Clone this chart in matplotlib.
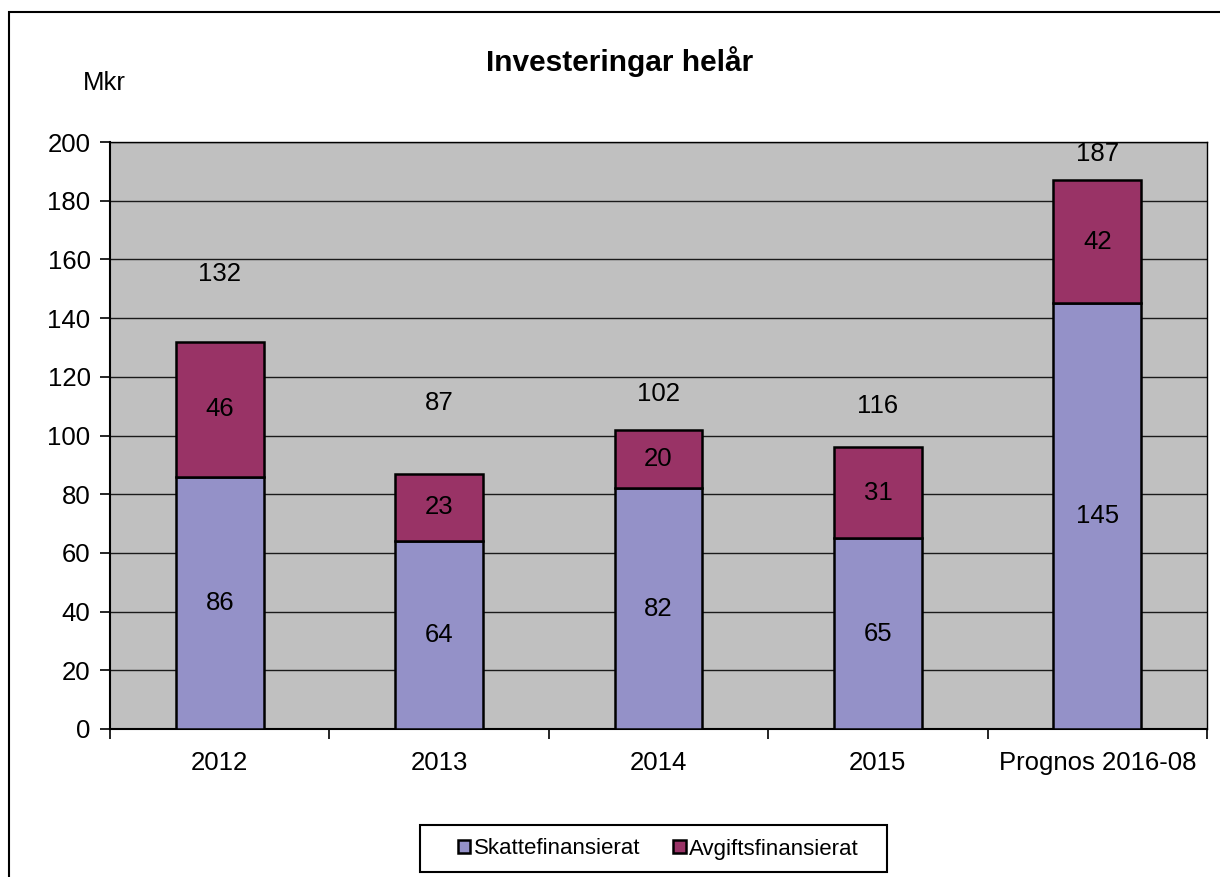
import matplotlib
matplotlib.use("Agg")
import matplotlib.pyplot as plt
from matplotlib.patches import Rectangle

plt.rcParams['font.family'] = ['Liberation Sans', 'DejaVu Sans']

categories = ["2012", "2013", "2014", "2015", "Prognos 2016-08"]
skatte = [86, 64, 82, 65, 145]
avgift = [46, 23, 20, 31, 42]
total_labels = ["132", "87", "102", "116", "187"]
total_label_y = [155, 111, 114, 110, 196]

W, H = 1220, 877
fig = plt.figure(figsize=(W / 100, H / 100), dpi=100)
fig.patch.set_facecolor("white")

FS = 18.5

# outer chart border (left/top visible)
fig.add_artist(Rectangle((9 / W, -0.05), 1.2, 1 - 12 / H + 0.05, transform=fig.transFigure,
                         fill=False, edgecolor="black", linewidth=1.5))

ax = fig.add_axes([110 / W, 1 - 729 / H, (1207 - 110) / W, (729 - 142) / H])
ax.set_facecolor("#C0C0C0")

x = list(range(len(categories)))
bw = 0.4
ax.bar(x, skatte, width=bw, color="#9491C8", edgecolor="black", linewidth=1.8,
       label="Skattefinansierat", zorder=3)
ax.bar(x, avgift, width=bw, bottom=skatte, color="#993366", edgecolor="black",
       linewidth=1.8, label="Avgiftsfinansierat", zorder=3)

for i in x:
    ax.text(i, skatte[i] / 2, str(skatte[i]), ha="center", va="center", fontsize=FS, zorder=4)
    ax.text(i, skatte[i] + avgift[i] / 2, str(avgift[i]), ha="center", va="center",
            fontsize=FS, zorder=4)
    ax.text(i, total_label_y[i], total_labels[i], ha="center", va="center", fontsize=FS, zorder=4)

ax.set_xlim(-0.5, len(categories) - 0.5)
ax.set_ylim(0, 200)
ax.set_yticks(range(0, 201, 20))
ax.yaxis.grid(True, color="#1a1a1a", linewidth=1.0, zorder=1)
ax.set_axisbelow(True)
ax.tick_params(axis="y", labelsize=FS, length=7, width=1.2, direction="out", pad=7)

ax.set_xticks([i + 0.5 for i in range(-1, len(categories))], minor=False)
ax.set_xticklabels([])
ax.tick_params(axis="x", length=7, width=1.2, direction="out")
ax.set_xticks(x, minor=True)
ax.set_xticklabels(categories, minor=True, fontsize=FS)
ax.tick_params(axis="x", which="minor", length=0, pad=16)

for s in ["left", "bottom"]:
    ax.spines[s].set_color("black")
    ax.spines[s].set_linewidth(1.5)
ax.spines["top"].set_color("black")
ax.spines["top"].set_linewidth(1.0)
ax.spines["right"].set_color("black")
ax.spines["right"].set_linewidth(1.0)

fig.text(620 / W, 1 - 62 / H, "Investeringar helår", ha="center", va="center",
         fontsize=21.5, fontweight="bold")
fig.text(104 / W, 1 - 83 / H, "Mkr", ha="center", va="center", fontsize=FS)

# legend frame
fig.add_artist(Rectangle((420 / W, 1 - 872 / H), (887 - 420) / W, (872 - 825) / H,
                         transform=fig.transFigure, fill=False, edgecolor="black",
                         linewidth=1.5))
leg = fig.legend(loc="center left", bbox_to_anchor=(458 / W, 1 - 849 / H), ncol=2,
                 fontsize=16, frameon=False, handlelength=0.55, handleheight=0.55,
                 handletextpad=0.15, columnspacing=1.5, borderpad=0, borderaxespad=0)

fig.savefig("out.png", dpi=100)
